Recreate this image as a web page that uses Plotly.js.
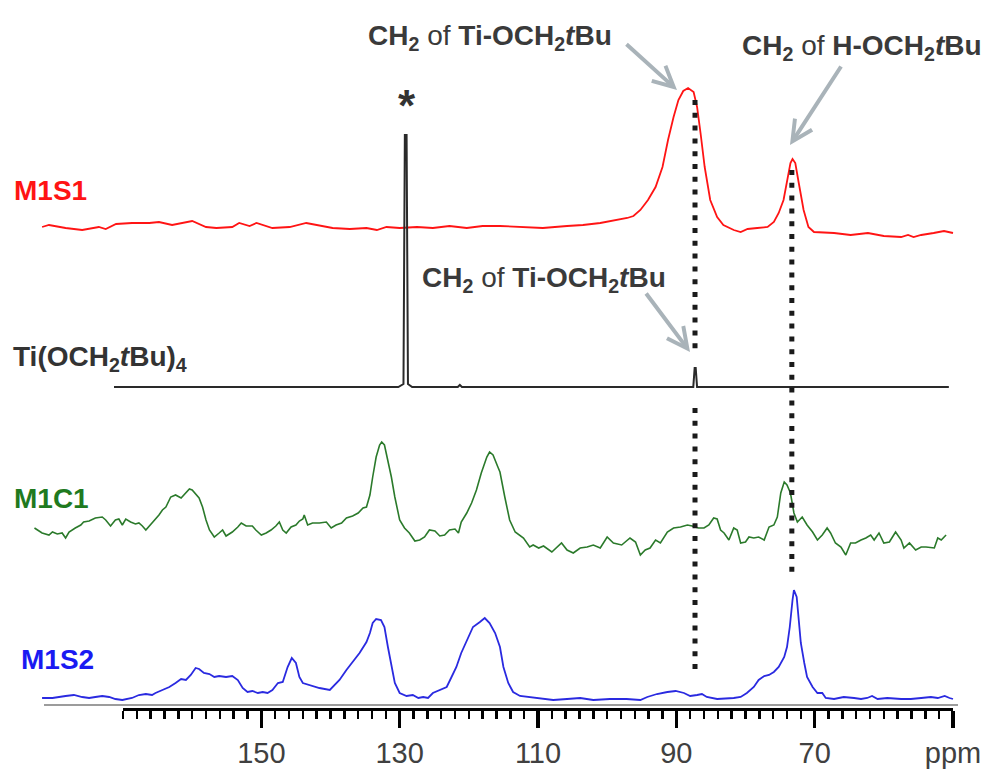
<!DOCTYPE html>
<html><head><meta charset="utf-8">
<script src="https://cdn.plot.ly/plotly-3.0.1.min.js"></script>
<style>html,body{margin:0;padding:0;background:#fff}</style>
</head><body><div id="chart" style="width:990px;height:771px"></div>
<script>
// ---- spectra (ppm, relative intensity) ----
const m1s1Ppm = [181.7,180.7,178.3,175.9,173.5,172.5,171.0,168.7,166.2,164.8,162.9,160.4,160.0,158.0,156.5,154.2,153.2,151.7,150.7,148.4,145.9,143.5,142.0,139.7,137.2,134.8,133.3,131.9,130.0,127.5,125.2,122.8,120.3,118.0,115.5,110.7,109.3,105.8,103.5,101.0,98.6,97.1,96.2,95.2,94.1,93.0,92.0,91.2,90.4,89.7,89.0,88.3,87.5,87.0,86.5,85.9,85.1,84.1,83.2,81.7,80.7,79.7,78.3,76.8,75.9,75.2,74.5,73.9,73.5,73.2,72.8,72.3,71.6,70.9,70.1,67.2,64.8,62.3,60.0,57.5,56.5,55.7,54.6,52.8,51.3,50.0];
const m1s1Int = [1,3,0,-2,1,-1,4,5,5,6,3,6,7,1,0,1,5,2,5,0,1,5,3,0,-1,0,-2,1,0,1,0,2,0,2,2,1,0,2,3,5,8,10,12,18,28,41,61,88,111,128,137,140,136,121,95,61,28,11,3,-2,-4,-1,0,1,6,15,28,48,65,69,65,45,18,1,-4,-5,-7,-5,-8,-9,-7,-9,-7,-5,-3,-5];

const tiPpm = [171.3,130.2,129.45,129.25,129.0,128.8,128.2,121.6,121.3,121.0,87.55,87.35,87.2,87.0,50.6];
const tiInt = [0,0,3,252,252,3,0,0,2,0,0,19,19,0,0];

const m1c1Ppm = [182.8,181.7,180.7,180.2,179.5,178.8,178.3,177.8,176.9,176.1,175.7,174.9,174.0,173.0,172.5,171.8,171.1,170.6,170.1,169.6,168.9,168.2,167.7,167.2,166.7,165.8,164.8,164.3,163.8,163.1,162.4,161.6,161.2,160.4,160.0,159.0,158.5,158.0,157.5,156.8,156.1,155.6,155.1,154.2,153.4,152.9,152.2,151.3,150.8,150.0,149.3,148.6,147.9,147.4,146.9,146.4,145.7,145.0,144.5,144.0,143.8,143.3,142.6,141.6,140.6,139.9,139.2,138.4,137.7,136.8,136.0,135.3,134.8,134.3,133.9,133.4,132.9,132.6,132.2,131.7,131.2,130.7,130.0,129.3,128.6,127.8,127.1,126.4,125.7,124.9,124.2,123.5,122.8,122.0,121.5,121.1,120.3,119.6,118.9,118.2,117.4,117.0,116.5,115.8,115.5,114.8,114.1,113.3,112.1,111.2,110.7,109.9,109.2,108.0,107.3,106.6,105.8,104.9,103.9,102.9,102.0,101.0,100.0,99.1,97.9,96.7,95.9,95.2,94.5,93.8,93.0,92.3,91.3,90.4,89.4,88.4,87.7,86.8,86.0,85.3,84.6,84.1,83.6,83.1,82.4,81.7,81.2,80.7,80.0,79.5,78.8,78.1,77.3,76.6,75.9,75.4,74.9,74.4,74.0,73.5,73.0,72.5,71.8,71.1,70.3,69.6,68.9,68.2,67.7,67.0,66.2,65.5,64.8,64.1,63.3,62.6,61.9,61.4,60.7,60.0,59.2,58.3,57.5,57.1,56.3,55.4,54.6,53.9,52.7,52.2,51.7,51.0];
const m1c1Int = [17,12,10,13,11,12,7,13,17,20,23,24,27,28,25,19,25,26,20,26,23,21,22,19,15,22,30,35,38,48,50,47,50,56,55,47,38,25,15,8,12,15,9,13,18,22,19,19,15,10,12,15,19,23,15,12,18,20,24,26,30,20,22,22,23,17,20,22,27,29,32,37,38,50,68,88,100,103,100,85,68,48,25,17,12,4,5,8,15,14,9,10,15,16,12,23,32,42,55,72,88,93,90,78,73,48,25,13,7,-2,0,-3,-1,-7,-2,2,-5,-8,-3,-2,0,-3,8,2,0,7,3,-10,-5,-3,5,2,13,17,18,20,19,17,17,20,27,26,15,12,5,17,15,2,3,8,7,8,5,18,20,28,52,63,60,52,32,23,28,20,13,5,10,17,12,2,-2,-10,2,2,5,7,10,5,12,2,3,13,5,-3,2,-5,-2,-2,-3,7,5,10];

const m1s2Ppm = [181.7,180.2,178.3,177.1,175.9,174.9,174.0,173.0,172.0,171.1,170.1,168.7,167.7,166.7,165.8,165.3,164.3,163.3,162.4,161.6,160.9,160.2,159.5,159.0,158.3,157.5,156.8,156.1,155.1,154.2,153.4,152.7,152.0,151.3,150.5,149.8,149.1,148.4,147.6,146.9,146.2,145.6,145.0,144.5,144.0,143.0,141.6,140.1,139.7,138.7,137.7,136.8,135.8,134.8,134.3,133.9,133.4,132.7,132.2,131.7,131.2,130.7,130.0,129.0,128.1,127.3,126.6,125.9,125.2,124.2,123.2,122.5,121.8,121.1,120.3,119.4,118.4,117.7,117.0,116.2,115.5,115.0,114.3,113.6,112.6,111.2,109.7,107.8,105.8,103.9,102.0,99.6,97.2,95.2,94.2,92.8,91.3,90.1,88.9,88.0,87.0,86.3,85.6,84.1,81.7,80.7,79.8,78.8,78.1,77.3,76.6,75.9,75.2,74.4,74.0,73.6,73.2,73.0,72.6,72.3,72.0,71.5,71.1,70.3,69.6,68.9,68.4,67.2,65.8,64.3,63.3,62.4,61.7,60.9,59.5,57.5,56.1,54.6,53.2,52.2,51.2,50.5,50.0];
const m1s2Int = [2,2,4,5,3,2,3,4,3,1,0,2,5,6,5,7,10,13,17,21,20,25,32,31,27,26,23,24,23,24,20,12,8,9,7,8,7,10,17,18,33,42,37,23,17,15,12,10,13,20,30,38,47,58,67,77,81,80,73,53,33,17,7,4,5,2,3,2,7,10,13,23,33,47,60,73,78,82,77,67,53,33,17,8,4,3,2,0,1,2,0,1,1,0,3,6,8,9,7,4,5,6,3,1,2,3,7,13,20,24,25,28,33,43,53,73,100,110,103,83,57,37,23,13,7,7,2,1,3,2,1,2,4,1,2,1,1,2,3,2,4,2,1];

// ---- axis ticks ----
const tickVals = [150, 130, 110, 90, 70, 50];
const tickText = ['150', '130', '110', '90', '70', 'ppm'];
// guide lines (ppm)
const guidePpm = [87.3, 73.3];

// ---- geometry (pixels) ----
const W = 990, H = 771;
const axPx0 = 123, axPx1 = 953, axPpm0 = 170, axPpm1 = 50;
const pxPer = (axPx1 - axPx0) / (axPpm0 - axPpm1);
const xRange = [axPpm0 + axPx0 / pxPer, axPpm1 - (W - axPx1) / pxPer];
const py = p => H - p;               // pixel row -> y value
const ppmAt = px => axPpm0 - (px - axPx0) / pxPer;
const offRed = py(228), offTi = py(387), offGreen = py(545), offBlue = py(700);
const FONT = 'Arial, "Liberation Sans", sans-serif';

const shift = (arr, off) => arr.map(v => v + off);

const traces = [
  {x: m1s1Ppm, y: shift(m1s1Int, offRed), mode: 'lines', line: {color: '#ff1414', width: 1.8}, name: 'M1S1'},
  {x: tiPpm, y: shift(tiInt, offTi), mode: 'lines', line: {color: '#2a2a2a', width: 2}, name: 'Ti'},
  {x: m1c1Ppm, y: shift(m1c1Int, offGreen), mode: 'lines', line: {color: '#2b7a2b', width: 1.6}, name: 'M1C1'},
  {x: m1s2Ppm, y: shift(m1s2Int, offBlue), mode: 'lines', line: {color: '#2a2ae0', width: 1.8}, name: 'M1S2'},
  {x: [], y: [], xaxis: 'x2', yaxis: 'y', mode: 'lines', showlegend: false, hoverinfo: 'skip'}
];

const dot = {color: '#1a1a1a', width: 5, dash: '5px,7.8px'};
const shapes = [
  {type: 'line', xref: 'x', yref: 'y', x0: ppmAt(44), x1: ppmAt(958), y0: py(705), y1: py(705), line: {color: '#9c9c9c', width: 2}, layer: 'below'},
  {type: 'line', xref: 'x', yref: 'y', x0: guidePpm[0], x1: guidePpm[0], y0: py(100), y1: py(352), line: dot},
  {type: 'line', xref: 'x', yref: 'y', x0: guidePpm[0], x1: guidePpm[0], y0: py(408), y1: py(670), line: dot},
  {type: 'line', xref: 'x', yref: 'y', x0: guidePpm[1], x1: guidePpm[1], y0: py(170), y1: py(572), line: dot}
];

const lab = (text, px, pyc, color, size) => ({
  text: text, xref: 'paper', yref: 'paper', x: px / W, y: (H - pyc) / H,
  xanchor: 'left', yanchor: 'middle', showarrow: false,
  font: {family: FONT, size: size, color: color}
});
const arrowCol = '#a9b3b9';
const arr = (tipPx, tipPy, ax, ay) => ({
  text: '', xref: 'x', yref: 'y', x: ppmAt(tipPx), y: py(tipPy), ax: ax, ay: ay,
  showarrow: true, arrowhead: 5, arrowsize: 1, arrowwidth: 4, arrowcolor: arrowCol, standoff: 0
});

const annotations = [
  lab('<b>M1S1</b>', 12, 190, '#ff1414', 28),
  lab('<b>M1C1</b>', 12, 499, '#1f7a1f', 28),
  lab('<b>M1S2</b>', 19, 659, '#1a1af2', 28),
  lab('<b>Ti(OCH<sub>2</sub><i>t</i>Bu)<sub>4</sub></b>', 11, 358, '#333333', 28),
  lab('<b>CH<sub>2</sub></b> of <b>Ti-OCH<sub>2</sub><i>t</i>Bu</b>', 366, 37, '#3a3a3a', 28),
  lab('<b>CH<sub>2</sub></b> of <b>H-OCH<sub>2</sub><i>t</i>Bu</b>', 740, 47, '#3a3a3a', 28),
  lab('<b>CH<sub>2</sub></b> of <b>Ti-OCH<sub>2</sub><i>t</i>Bu</b>', 420, 279, '#3a3a3a', 28),
  {text: '<b>*</b>', xref: 'x', yref: 'paper', x: ppmAt(407), y: (H - 106) / H, xanchor: 'center', yanchor: 'middle',
   showarrow: false, font: {family: FONT, size: 44, color: '#333333'}},
  arr(677, 90, -52, -47),
  arr(790, 145, 52, -80),
  arr(690, 352, -45, -60)
];

const layout = {
  width: W, height: H, margin: {l: 0, r: 0, t: 0, b: 0, pad: 0},
  paper_bgcolor: '#ffffff', plot_bgcolor: 'rgba(0,0,0,0)', showlegend: false,
  xaxis: {range: xRange, domain: [0, 1], visible: false, fixedrange: true},
  yaxis: {range: [0, H], domain: [0, 1], visible: false, fixedrange: true},
  xaxis2: {
    domain: [axPx0 / W, axPx1 / W], range: [axPpm0, axPpm1], anchor: 'free', position: (H - 709) / H,
    showline: true, linecolor: '#000', linewidth: 3, showgrid: false, zeroline: false,
    ticks: 'outside', ticklen: 17, tickwidth: 3.5, tickcolor: '#000',
    tickmode: 'array', tickvals: tickVals, ticktext: tickText,
    tickfont: {family: FONT, size: 29, color: '#404040'},
    minor: {dtick: 2, tick0: 0, ticks: 'outside', ticklen: 8, tickwidth: 2.5, tickcolor: '#000', showgrid: false},
    fixedrange: true
  },
  shapes: shapes, annotations: annotations
};

Plotly.newPlot('chart', traces, layout, {staticPlot: true, displayModeBar: false});
</script></body></html>
